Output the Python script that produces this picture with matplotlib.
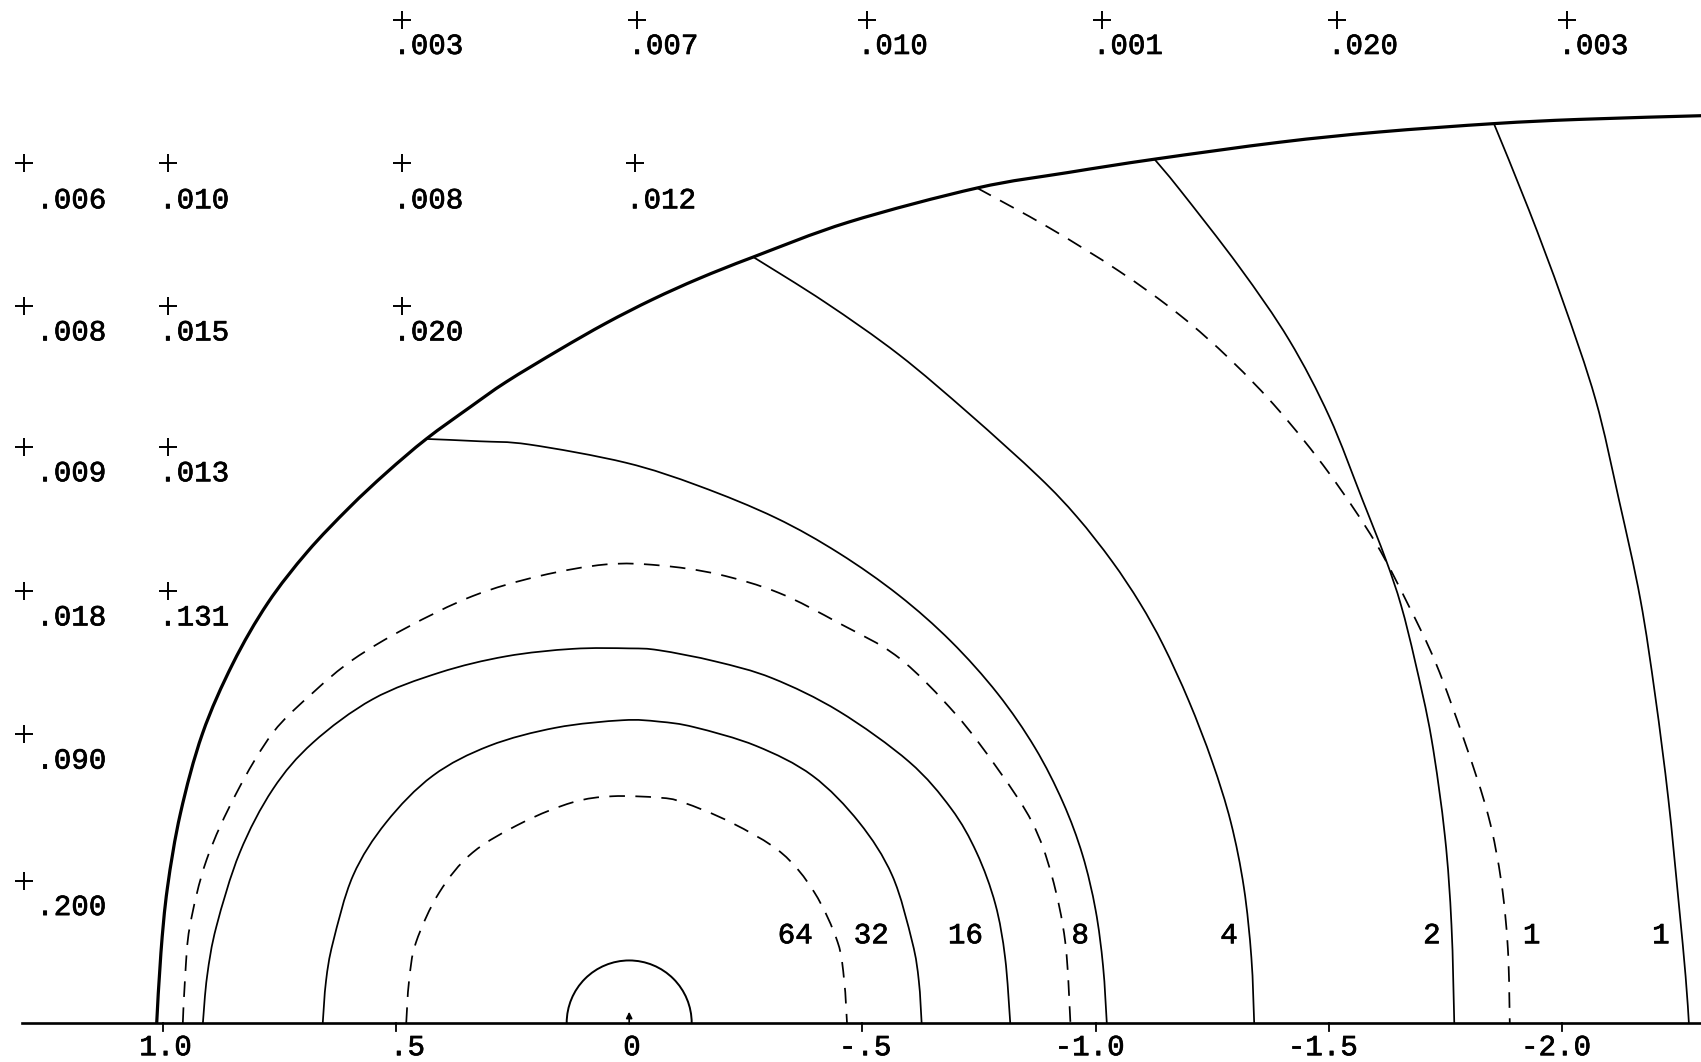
import numpy as np
import matplotlib.pyplot as plt
import matplotlib.patheffects as pe
from matplotlib.patches import Arc, PathPatch
from matplotlib.path import Path

# typed values at grid points (x runs 1.0 .. -2.0, left to right)
pt_x = [0.487, -0.017, -0.509, -1.013, -1.517, -2.011,
        1.298, 0.989, 0.487, -0.012,
        1.298, 0.989, 0.487,
        1.298, 0.989,
        1.298, 0.989,
        1.298,
        1.298]
pt_y = [2.151] * 6 + [1.844] * 4 + [1.537] * 3 + [1.235] * 2 + [0.926] * 2 + [0.619] + [0.305]
pt_val = [".003", ".007", ".010", ".001", ".020", ".003",
          ".006", ".010", ".008", ".012",
          ".008", ".015", ".020",
          ".009", ".013",
          ".018", ".131",
          ".090",
          ".200"]

# outer boundary
bound_x = [1.013, 1.004, 0.990, 0.962, 0.915, 0.850, 0.775, 0.690, 0.600, 0.520, 0.435,
           0.340, 0.264, 0.150, 0.050, -0.050, -0.150, -0.266, -0.471, -0.746, -0.940,
           -1.128, -1.394, -1.608, -1.854, -2.036, -2.300]
bound_y = [0.0, 0.150, 0.290, 0.450, 0.620, 0.770, 0.900, 1.010, 1.105, 1.180, 1.252,
           1.321, 1.374, 1.443, 1.500, 1.551, 1.596, 1.642, 1.717, 1.790, 1.823,
           1.852, 1.888, 1.910, 1.928, 1.937, 1.945]

# closed contours around the origin
c64_x = [0.478, 0.472, 0.457, 0.407, 0.336, 0.228, 0.121, 0.036, -0.064, -0.115, -0.218,
         -0.326, -0.397, -0.447, -0.461, -0.467]
c64_y = [0.0, 0.090, 0.173, 0.280, 0.365, 0.430, 0.473, 0.486, 0.483, 0.473, 0.430,
         0.365, 0.280, 0.173, 0.090, 0.0]

c32_x = [0.657, 0.650, 0.635, 0.592, 0.521, 0.421, 0.300, 0.157, 0.014, -0.064, -0.140,
         -0.272, -0.393, -0.493, -0.564, -0.607, -0.621, -0.627]
c32_y = [0.0, 0.090, 0.173, 0.316, 0.430, 0.530, 0.594, 0.633, 0.649, 0.646, 0.634,
         0.594, 0.530, 0.430, 0.316, 0.173, 0.090, 0.0]

c16_x = [0.914, 0.905, 0.885, 0.835, 0.764, 0.678, 0.550, 0.407, 0.264, 0.121, 0.000,
         -0.064, -0.185, -0.307, -0.450, -0.600, -0.690, -0.745, -0.785, -0.806, -0.817]
c16_y = [0.0, 0.100, 0.207, 0.365, 0.501, 0.601, 0.694, 0.751, 0.786, 0.802, 0.803,
         0.799, 0.775, 0.739, 0.668, 0.560, 0.460, 0.365, 0.255, 0.140, 0.0]

c8d_x = [0.957, 0.952, 0.942, 0.906, 0.842, 0.764, 0.678, 0.592, 0.478, 0.336, 0.193,
         0.050, -0.064, -0.190, -0.321, -0.450, -0.578, -0.700, -0.792, -0.864, -0.906,
         -0.935, -0.946]
c8d_y = [0.0, 0.100, 0.207, 0.350, 0.493, 0.622, 0.708, 0.779, 0.847, 0.915, 0.958,
         0.983, 0.981, 0.962, 0.922, 0.857, 0.783, 0.662, 0.542, 0.430, 0.316,
         0.173, 0.0]

# contours that start on the boundary
c8_x = [0.435, 0.321, 0.214, 0.007, -0.150, -0.314, -0.450, -0.578, -0.690, -0.790,
        -0.870, -0.930, -0.972, -1.000, -1.016, -1.024]
c8_y = [1.252, 1.247, 1.240, 1.201, 1.151, 1.083, 1.007, 0.917, 0.818, 0.706,
        0.590, 0.473, 0.360, 0.242, 0.122, 0.0]

c4_x = [-0.266, -0.420, -0.578, -0.730, -0.878, -0.960, -1.035, -1.095, -1.145, -1.200,
        -1.250, -1.290, -1.318, -1.334, -1.340]
c4_y = [1.642, 1.545, 1.433, 1.305, 1.171, 1.085, 0.990, 0.900, 0.810, 0.690,
        0.560, 0.430, 0.290, 0.140, 0.0]

c1d_x = [-0.746, -0.900, -1.050, -1.180, -1.290, -1.394, -1.501, -1.600, -1.670, -1.730,
         -1.792, -1.842, -1.870, -1.884, -1.888]
c1d_y = [1.790, 1.705, 1.612, 1.518, 1.421, 1.312, 1.178, 1.030, 0.897, 0.770,
         0.601, 0.444, 0.301, 0.158, 0.0]

c2_x = [-1.126, -1.180, -1.308, -1.415, -1.501, -1.572, -1.622, -1.655, -1.685, -1.720,
        -1.749, -1.763, -1.769]
c2_y = [1.852, 1.787, 1.621, 1.464, 1.300, 1.122, 0.994, 0.895, 0.775, 0.610,
        0.400, 0.210, 0.0]

c1_x = [-1.854, -1.929, -2.001, -2.072, -2.122, -2.168, -2.200, -2.228, -2.250, -2.265,
        -2.272]
c1_y = [1.928, 1.743, 1.550, 1.336, 1.122, 0.908, 0.700, 0.480, 0.260, 0.100, 0.0]

core_r = 0.134

lab_txt = ["64", "32", "16", "8", "4", "2", "1", "1"]
lab_x = [-0.356, -0.519, -0.721, -0.967, -1.286, -1.721, -1.935, -2.212]
lab_y = 0.188

tick_v = [1.0, 0.5, 0.0, -0.5, -1.0, -1.5, -2.0]
tick_txt = ["1.0", ".5", "0", "-.5", "-1.0", "-1.5", "-2.0"]


def curve(ax, xs, ys, **kw):
    # smooth line through the read points (cubic pieces, passes every point)
    p = np.column_stack([xs, ys])
    q = np.vstack([p[0], p, p[-1]])
    verts = [p[0]]
    codes = [Path.MOVETO]
    for i in range(1, len(q) - 2):
        c1 = q[i] + (q[i + 1] - q[i - 1]) / 6.0
        c2 = q[i + 1] - (q[i + 2] - q[i]) / 6.0
        verts += [c1, c2, q[i + 1]]
        codes += [Path.CURVE4] * 3
    ax.add_patch(PathPatch(Path(verts, codes), fill=False, **kw))


fnt = "Liberation Mono"
fs = 21
heavy = [pe.withStroke(linewidth=0.5, foreground="black")]

fig = plt.figure(figsize=(17.01, 10.62), dpi=100)
ax = fig.add_axes([0, 0, 1, 1])
ax.set_xlim(1.349, -2.298)
ax.set_ylim(-0.0837, 2.193)
ax.axis("off")

k = "black"
dash = (0, (9, 6))
thin = 1.25

curve(ax, bound_x, bound_y, color=k, lw=2.3)
curve(ax, c64_x, c64_y, color=k, lw=thin, ls=dash)
curve(ax, c32_x, c32_y, color=k, lw=thin)
curve(ax, c16_x, c16_y, color=k, lw=thin)
curve(ax, c8d_x, c8d_y, color=k, lw=thin, ls=dash)
curve(ax, c8_x, c8_y, color=k, lw=thin)
curve(ax, c4_x, c4_y, color=k, lw=thin)
curve(ax, c1d_x, c1d_y, color=k, lw=thin, ls=dash)
curve(ax, c2_x, c2_y, color=k, lw=thin)
curve(ax, c1_x, c1_y, color=k, lw=thin)
ax.add_patch(Arc((0, 0), 2 * core_r, 2 * core_r, theta1=0, theta2=180, color=k, lw=1.4))

# base line
ax.plot([1.302, -2.298], [0, 0], color=k, lw=1.9)
for v in tick_v:
    if v == 0:
        ax.annotate("", xy=(0, 0.03), xytext=(0, -0.008),
                    arrowprops=dict(arrowstyle="-|>", lw=1.2, color=k, mutation_scale=9))
    else:
        ax.plot([v, v], [0, -0.018], color=k, lw=1.3)

cw = 0.6 * fs
for v, t in zip(tick_v, tick_txt):
    i = t.find(".")
    if i < 0:
        i = 0
    dx = -(i + 0.5) * cw + 2
    ax.annotate(t, (v, -0.052), xytext=(dx, 0), textcoords="offset points",
                ha="left", va="center", fontsize=fs, family=fnt, path_effects=heavy)

# grid points
ax.scatter(pt_x, pt_y, marker="+", s=170, color=k, lw=1.4)
for x, y, t in zip(pt_x, pt_y, pt_val):
    dx = -cw * 0.5
    if x > 1.2:
        dx = 9
    dy = -19
    if abs(y - 1.844) < 0.01:
        dy = -27
    ax.annotate(t, (x, y), xytext=(dx, dy), textcoords="offset points",
                ha="left", va="center", fontsize=fs, family=fnt, path_effects=heavy)

for x, t in zip(lab_x, lab_txt):
    ax.text(x, lab_y, t, ha="center", va="center", fontsize=fs, family=fnt,
            path_effects=heavy)

fig.savefig("out.png", dpi=100, facecolor="white")
